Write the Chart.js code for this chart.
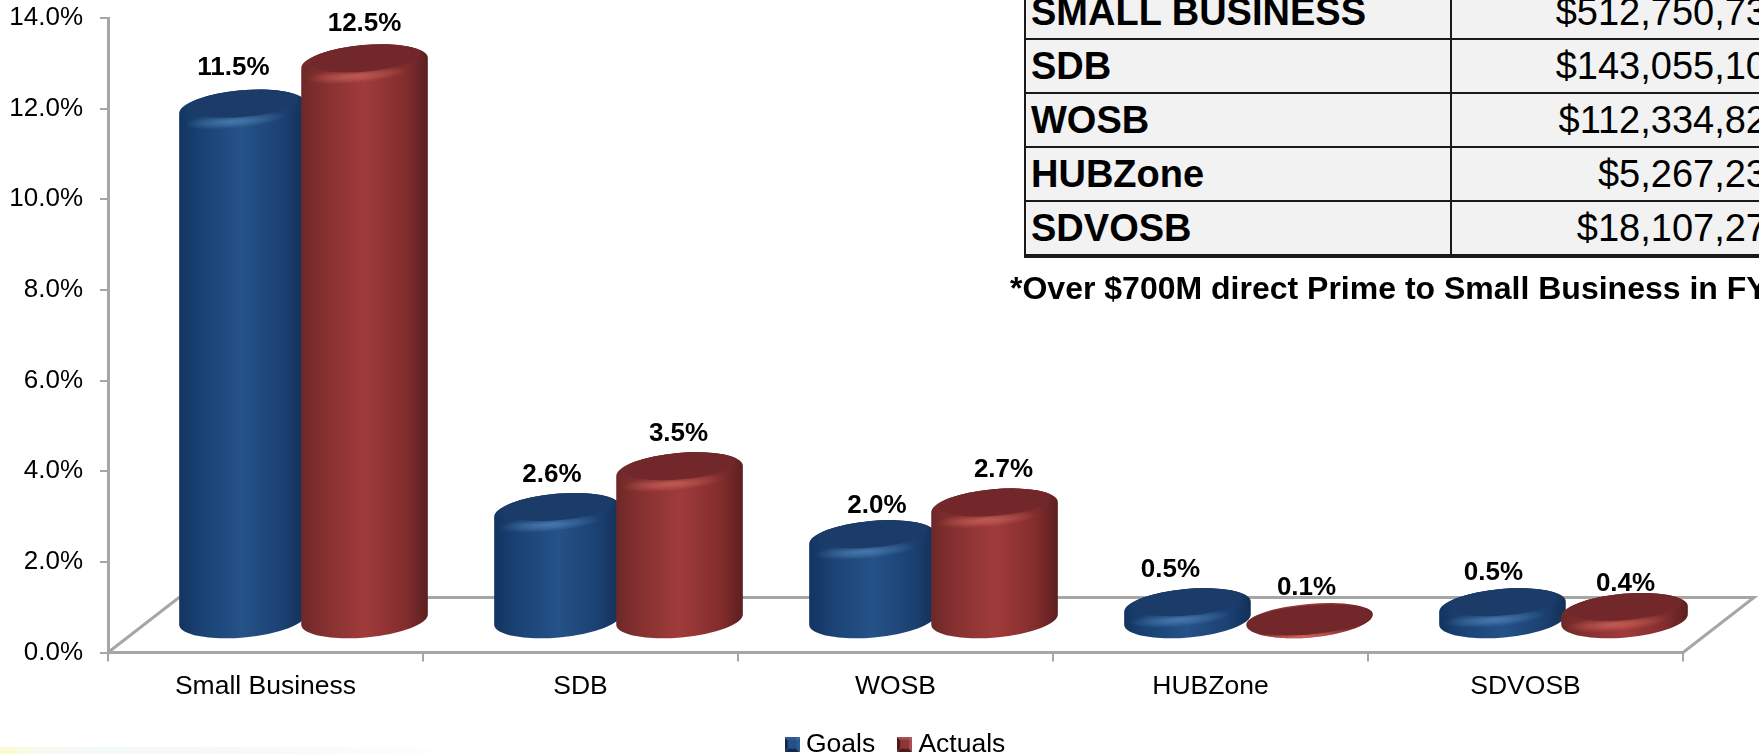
<!DOCTYPE html>
<html lang="en">
  <head>
    <meta charset="UTF-8" />
    <title>Small Business Goals vs Actuals</title>
    <style>
      html, body { margin: 0; padding: 0; background: #fff; }
      body { width: 1759px; height: 754px; overflow: hidden; position: relative; font-family: "Liberation Sans", Arial, sans-serif; }
      #wrap { position: absolute; left: 0; top: 0; width: 1759px; height: 754px; }
      #spend { position: absolute; left: 1024px; top: -16px; width: 743px; border-collapse: collapse; table-layout: fixed; background: #f2f2f2; font-size: 38px; color: #000; }
      #spend td { height: 52px; padding: 0; border: 2.5px solid #1a1a1a; line-height: 1; }
      #spend td.name { width: 426px; font-weight: bold; padding-left: 5px; box-sizing: border-box; }
      #spend td.amount { text-align: right; border-right: none; }
      #spend tr:last-child td { border-bottom-width: 4px; }
      #note { position: absolute; left: 1010px; top: 270px; font-size: 32px; line-height: 36px; font-weight: bold; white-space: nowrap; color: #000; }
      #strip { position: absolute; left: 0; top: 747px; width: 470px; height: 7px; background: linear-gradient(90deg, #fdf9cc 0, #f6fbf0 8%, #f4f9fb 22%, #f9f9f9 60%, #fff 100%); }
    </style>
  </head>
  <body>
    <div id="wrap"><canvas id="bar" width="1759" height="754"></canvas></div>
    <table id="spend"><tbody></tbody></table>
    <div id="note">*Over $700M direct Prime to Small Business in FY</div>
    <div id="strip"></div>
    <script src="https://cdn.jsdelivr.net/npm/chart.js"></script>
    <script>
      const categories = ["Small Business", "SDB", "WOSB", "HUBZone", "SDVOSB"];
      const goals = [11.5, 2.6, 2.0, 0.5, 0.5];
      const actuals = [12.5, 3.5, 2.7, 0.1, 0.4];
      const tableNames = ["SMALL BUSINESS", "SDB", "WOSB", "HUBZone", "SDVOSB"];
      const tableAmounts = ["$512,750,73", "$143,055,10", "$112,334,82", "$5,267,23", "$18,107,27"];

      const tbody = document.querySelector("#spend tbody");
      tableNames.forEach((name, i) => {
        const row = tbody.insertRow();
        const a = row.insertCell();
        a.className = "name";
        a.textContent = name;
        const b = row.insertCell();
        b.className = "amount";
        b.textContent = tableAmounts[i];
      });

      // 3D look: the floor is a parallelogram behind the front axis
      const DEPTH_X = 71;
      const DEPTH_Y = 55;
      // the cylinders stand on the middle of that floor
      const SHIFT_X = 38;
      const SHIFT_Y = 32;
      const TILT = (-5 * Math.PI) / 180;
      const GREY = "#a6a6a6";

      // value labels were placed by hand in the original slide
      const labelNudgeX = [[-9, -5.5, 4.5, -17, -9], [0, -1, 9, -3, 1]];
      const labelNudgeY = [[-3, 0, 4, 0, 3], [-2, 0, 0, 0, 9]];

      const looks = {
        "#24508a": {
          side: ["#123460", "#1a4274", "#255288", "#1b4172", "#132f57"],
          top: "#1b3c68",
          shine: "rgba(92,146,200,0.8)",
        },
        "#9e3a3a": {
          side: ["#6d2827", "#853030", "#a03b3b", "#832d2d", "#5c1f20"],
          top: "#72282a",
          shine: "rgba(222,112,100,0.8)",
        },
      };

      class CylinderElement extends Chart.BarElement {
        static id = "cylinder";
        draw(ctx) {
          const look = looks[this.options.backgroundColor];
          // neighbours overlap a little
          const a = this.width / 2 + 2.5;
          const cx = this.x + SHIFT_X;
          const base = this.base - SHIFT_Y;
          const ty = this.y - SHIFT_Y;
          const h = base - ty;
          const k = Math.min(1, h / 20);
          const outerY = Math.min(ty + 9, base);
          const outerRy = 18 - 3 * (1 - k);

          ctx.save();
          const grad = ctx.createLinearGradient(cx - a, 0, cx + a, 0);
          [0, 0.18, 0.5, 0.82, 1].forEach((s, i) => grad.addColorStop(s, look.side[i]));

          // body: top half of the shoulder, down the sides, round the base
          ctx.beginPath();
          ctx.ellipse(cx, outerY, a, outerRy, TILT, Math.PI, 0);
          ctx.ellipse(cx, base, a, 18, TILT, 0, Math.PI);
          ctx.closePath();
          ctx.fillStyle = grad;
          ctx.fill();
          ctx.clip();

          // soft highlight on the bevel, in front of the flat top
          ctx.save();
          ctx.translate(cx - 8, ty + 4 + 13 * 1.3);
          ctx.rotate(TILT);
          ctx.scale(1, 0.16);
          const sh = ctx.createRadialGradient(0, 0, 0, 0, 0, a * 0.8);
          sh.addColorStop(0, look.shine);
          sh.addColorStop(1, look.shine.replace(/[\d.]+\)$/, "0)"));
          ctx.fillStyle = sh;
          ctx.beginPath();
          ctx.arc(0, 0, a * 0.8, 0, Math.PI * 2);
          ctx.fill();
          ctx.restore();

          // flat top, blurred edge so it melts into the bevel
          ctx.shadowColor = look.top;
          ctx.shadowBlur = 7 * k;
          ctx.beginPath();
          ctx.ellipse(cx, ty + 4, a - 8 * k, 13.5 + (1 - k), TILT, 0, Math.PI * 2);
          ctx.fillStyle = look.top;
          ctx.fill();
          ctx.restore();
        }
      }

      class CylinderController extends Chart.BarController {
        static id = "cylinder";
        static defaults = { dataElementType: "cylinder" };
      }

      Chart.register(CylinderElement, CylinderController);

      const bevelBox = (light, mid, dark) => {
        const c = document.createElement("canvas");
        c.width = 15;
        c.height = 15;
        const g = c.getContext("2d");
        const tri = (col, x1, y1, x2, y2) => {
          g.fillStyle = col;
          g.beginPath();
          g.moveTo(7.5, 7.5);
          g.lineTo(x1, y1);
          g.lineTo(x2, y2);
          g.closePath();
          g.fill();
        };
        tri(light, 0, 0, 15, 0);
        tri(light, 15, 0, 15, 15);
        tri(dark, 15, 15, 0, 15);
        tri(dark, 0, 15, 0, 0);
        g.fillStyle = mid;
        g.fillRect(3, 3, 9, 9);
        return c;
      };
      const legendIcons = [bevelBox("#2c5a92", "#24508a", "#13294a"), bevelBox("#a85050", "#8e3636", "#4c1a1a")];

      const floorPlugin = {
        id: "floor",
        afterLayout(chart) {
          // legend sits a little right of the plot centre
          chart.legend.left += 3;
          chart.legend.right += 3;
        },
        beforeDatasetsDraw(chart) {
          const { left, right, bottom } = chart.chartArea;
          const ctx = chart.ctx;
          ctx.save();
          ctx.strokeStyle = GREY;
          ctx.lineWidth = 3;
          ctx.beginPath();
          ctx.moveTo(left, bottom);
          ctx.lineTo(left + DEPTH_X, bottom - DEPTH_Y);
          ctx.lineTo(right + DEPTH_X, bottom - DEPTH_Y);
          ctx.lineTo(right, bottom);
          ctx.stroke();
          ctx.restore();
        },
      };

      // Actuals overlap Goals, chart.js would paint them the other way round
      const paintOrderPlugin = {
        id: "paintOrder",
        beforeDatasetDraw(chart, args) {
          if (args.index === 1) return false;
        },
        afterDatasetDraw(chart, args) {
          if (args.index === 0) chart.getDatasetMeta(1).controller.draw();
        },
      };

      const labelPlugin = {
        id: "valueLabels",
        afterDatasetsDraw(chart) {
          const ctx = chart.ctx;
          ctx.save();
          ctx.font = 'bold 26px "Liberation Sans", Arial, sans-serif';
          ctx.fillStyle = "#000";
          ctx.textAlign = "center";
          ctx.textBaseline = "middle";
          chart.data.datasets.forEach((ds, d) => {
            chart.getDatasetMeta(d).data.forEach((bar, i) => {
              const x = bar.x + SHIFT_X + labelNudgeX[d][i];
              const y = bar.y - SHIFT_Y - 28 + labelNudgeY[d][i];
              ctx.fillText(ds.data[i].toFixed(1) + "%", x, y);
            });
          });
          ctx.restore();
        },
      };

      new Chart(document.getElementById("bar"), {
        type: "cylinder",
        data: {
          labels: categories,
          datasets: [
            { label: "Goals", data: goals, backgroundColor: "#24508a", clip: false },
            { label: "Actuals", data: actuals, backgroundColor: "#9e3a3a", clip: false },
          ],
        },
        options: {
          responsive: false,
          animation: false,
          layout: { padding: { top: 18, right: 76, bottom: -13.5, left: 0 } },
          categoryPercentage: 0.775,
          barPercentage: 1,
          scales: {
            x: {
              type: "category",
              offset: true,
              afterFit: (s) => { s.height = 49.5; },
              border: { color: GREY, width: 3 },
              grid: { offset: true, drawOnChartArea: false, color: GREY, lineWidth: 2, tickLength: 9 },
              ticks: { color: "#000", padding: 9, font: { size: 26.5, family: '"Liberation Sans", Arial, sans-serif' }, maxRotation: 0 },
            },
            y: {
              min: 0,
              max: 14,
              afterFit: (s) => {
                s.width = 108;
                s.paddingTop = 0;
                s.paddingBottom = 0;
              },
              border: { color: GREY, width: 3 },
              grid: { drawOnChartArea: false, color: GREY, lineWidth: 2, tickLength: 8 },
              ticks: {
                stepSize: 2,
                color: "#000",
                padding: 17,
                font: { size: 26, family: '"Liberation Sans", Arial, sans-serif' },
                callback: (v) => v.toFixed(1) + "%",
              },
            },
          },
          plugins: {
            tooltip: { enabled: false },
            legend: {
              position: "bottom",
              fullSize: false,
              labels: {
                color: "#000",
                padding: 29,
                usePointStyle: true,
                pointStyleWidth: 1,
                font: { size: 26.5, family: '"Liberation Sans", Arial, sans-serif' },
                generateLabels: (chart) =>
                  chart.data.datasets.map((ds, i) => ({
                    text: ds.label,
                    pointStyle: legendIcons[i],
                    datasetIndex: i,
                    fontColor: "#000",
                    lineWidth: 0,
                    strokeStyle: "transparent",
                  })),
              },
            },
          },
        },
        plugins: [floorPlugin, paintOrderPlugin, labelPlugin],
      });
    </script>
  </body>
</html>
